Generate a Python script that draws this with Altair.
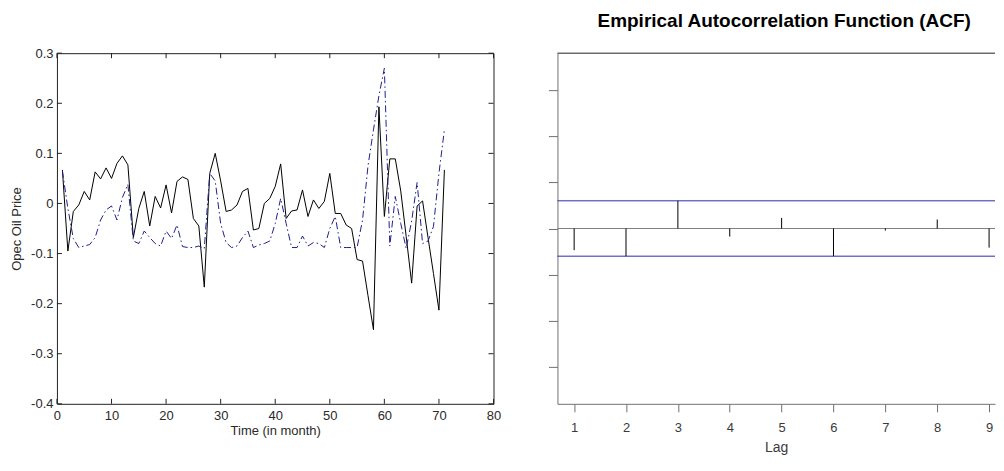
import altair as alt
import pandas as pd

# ---------------- data ----------------
months = list(range(1, 72))
opec_solid = [0.067, -0.095, -0.016, -0.003, 0.024, 0.007, 0.063, 0.049, 0.071, 0.050,
              0.080, 0.095, 0.077, -0.068, -0.010, 0.024, -0.045, 0.014, -0.009, 0.037,
              -0.019, 0.044, 0.053, 0.048, -0.030, -0.045, -0.167, 0.060, 0.100, 0.045,
              -0.016, -0.013, -0.003, 0.024, 0.030, -0.053, -0.050, 0.000, 0.010, 0.034,
              0.079, -0.030, -0.015, -0.013, 0.027, -0.026, 0.007, -0.010, 0.004, 0.060,
              -0.020, -0.020, -0.043, -0.050, -0.112, -0.115, -0.184, -0.252, 0.193, -0.026,
              0.089, 0.089, 0.025, -0.066, -0.159, -0.005, 0.005, -0.068, -0.140, -0.213,
              0.067]
opec_dashdot = [0.065, -0.010, -0.070, -0.088, -0.085, -0.082, -0.068, -0.033, -0.013, -0.005,
                -0.033, 0.012, 0.038, -0.075, -0.080, -0.055, -0.068, -0.080, -0.085, -0.055,
                -0.070, -0.043, -0.086, -0.088, -0.088, -0.085, -0.090, 0.060, 0.045, -0.040,
                -0.078, -0.088, -0.085, -0.068, -0.055, -0.088, -0.083, -0.080, -0.075, -0.040,
                0.010, -0.040, -0.088, -0.088, -0.065, -0.085, -0.078, -0.080, -0.088, -0.050,
                -0.026, -0.088, -0.088, -0.088, -0.088, -0.033, 0.075, 0.147, 0.215, 0.270,
                -0.085, 0.014, -0.040, -0.090, -0.035, 0.042, -0.080, -0.075, -0.046, 0.060,
                0.147]
x_ticks = [0, 10, 20, 30, 40, 50, 60, 70, 80]
y_ticks = [-0.4, -0.3, -0.2, -0.1, 0.0, 0.1, 0.2, 0.3]

lags = [1, 2, 3, 4, 5, 6, 7, 8, 9]
acf_values = [-0.094, -0.120, 0.120, -0.035, 0.046, -0.120, -0.009, 0.039, -0.083]
conf_bounds = [0.12, -0.12]
acf_y_ticks = [-0.6, -0.4, -0.2, 0.0, 0.2, 0.4, 0.6]

FONT = "Liberation Sans"
W1, H = 437, 351
W2 = 438
TICK = 5
XT = "Time (in month)"
YT = "Opec Oil Price"

# ---------------- left panel ----------------
df = pd.DataFrame({"t": months, "solid": opec_solid, "dash": opec_dashdot})
xs = alt.Scale(domain=[0, 80], nice=False, zero=False)
ys = alt.Scale(domain=[-0.4, 0.3], nice=False, zero=False)

minus_fix = "replace(format(datum.value, '.1~f'), '\u2212', '-')"

solid = alt.Chart(df).mark_line(color="black", strokeWidth=1).encode(
    x=alt.X("t:Q", scale=xs, title=XT,
            axis=alt.Axis(values=x_ticks, ticks=False, tickSize=0, labelFlush=False,
                          domain=False, grid=False, labelPadding=6, labelFontSize=13,
                          labelFont=FONT, labelColor="#2a2a2a", titleFont=FONT,
                          titleFontSize=13, titleFontWeight="normal", titleColor="#2a2a2a",
                          titlePadding=2)),
    y=alt.Y("solid:Q", scale=ys, title=YT,
            axis=alt.Axis(values=y_ticks, ticks=False, tickSize=0, labelFlush=False,
                          domain=False, grid=False, labelPadding=4, labelFontSize=13,
                          labelFont=FONT, labelColor="#2a2a2a", labelExpr=minus_fix,
                          titleFont=FONT, titleFontSize=13, titleFontWeight="normal",
                          titleColor="#2a2a2a", titlePadding=7)),
)
dash = alt.Chart(df).mark_line(color="#1f1f8f", strokeWidth=1, strokeDash=[7, 3, 1.5, 3]).encode(
    x=alt.X("t:Q", scale=xs, title=XT),
    y=alt.Y("dash:Q", scale=ys, title=YT),
)

xt = pd.DataFrame({"v": x_ticks})
yt = pd.DataFrame({"v": y_ticks})
tick_color = "#222"
xt_bottom = alt.Chart(xt).mark_rule(color=tick_color, strokeWidth=1).encode(
    x=alt.X("v:Q", scale=xs, title=XT), y=alt.value(H), y2=alt.value(H - TICK))
xt_top = alt.Chart(xt).mark_rule(color=tick_color, strokeWidth=1).encode(
    x=alt.X("v:Q", scale=xs, title=XT), y=alt.value(0), y2=alt.value(TICK))
yt_left = alt.Chart(yt).mark_rule(color=tick_color, strokeWidth=1).encode(
    y=alt.Y("v:Q", scale=ys, title=YT), x=alt.value(0), x2=alt.value(TICK))
yt_right = alt.Chart(yt).mark_rule(color=tick_color, strokeWidth=1).encode(
    y=alt.Y("v:Q", scale=ys, title=YT), x=alt.value(W1), x2=alt.value(W1 - TICK))

left = alt.layer(solid, dash, xt_bottom, xt_top, yt_left, yt_right).properties(
    width=W1, height=H,
    view=alt.ViewBackground(stroke="#222", strokeWidth=1),
)

# ---------------- right panel ----------------
acf_df = pd.DataFrame({"lag": lags, "acf": acf_values})
xs2 = alt.Scale(domain=[0.678, 9.114], nice=False, zero=False)
ys2 = alt.Scale(domain=[-0.76, 0.76], nice=False, zero=False)

zero_line = alt.Chart(pd.DataFrame({"z": [0.0]})).mark_rule(color="#808080", strokeWidth=1).encode(
    y=alt.Y("z:Q", scale=ys2, title=None,
            axis=alt.Axis(values=acf_y_ticks, labels=False, tickSize=9,
                          tickColor="#707070", domainColor="#707070", grid=False)),
)
stems = alt.Chart(acf_df).mark_rule(color="black", strokeWidth=1).encode(
    x=alt.X("lag:Q", scale=xs2, title="Lag",
            axis=alt.Axis(values=lags, tickSize=8, tickColor="#707070", labelFlush=False,
                          domainColor="#707070", grid=False, labelPadding=10,
                          labelFontSize=13, labelFont=FONT, labelColor="#3a3a3a",
                          titleFont=FONT, titleFontSize=14, titleFontWeight="normal",
                          titleColor="#3a3a3a", titlePadding=6)),
    y=alt.Y("acf:Q", scale=ys2, title=None),
    y2=alt.Y2(datum=0),
)
bounds = alt.Chart(pd.DataFrame({"b": conf_bounds})).mark_rule(color="#2a2ab4", strokeWidth=1).encode(
    y=alt.Y("b:Q", scale=ys2, title=None),
)
top_border = alt.Chart(pd.DataFrame({"k": [0]})).mark_rule(color="#222", strokeWidth=1).encode(
    x=alt.value(0), x2=alt.value(W2), y=alt.value(0),
)

right = alt.layer(zero_line, bounds, stems, top_border).properties(
    width=W2, height=H,
    title=alt.TitleParams("Empirical Autocorrelation Function (ACF)", font=FONT, fontSize=19,
                          fontWeight="bold", color="black", anchor="middle", offset=22, dx=8),
)

chart = alt.hconcat(left, right, spacing=64, bounds="flush").properties(
    padding={"left": 2, "top": 3, "right": 0, "bottom": 0},
).configure_view(stroke=None)

chart.save("out.html", embed_options={"renderer": "svg", "actions": False})
